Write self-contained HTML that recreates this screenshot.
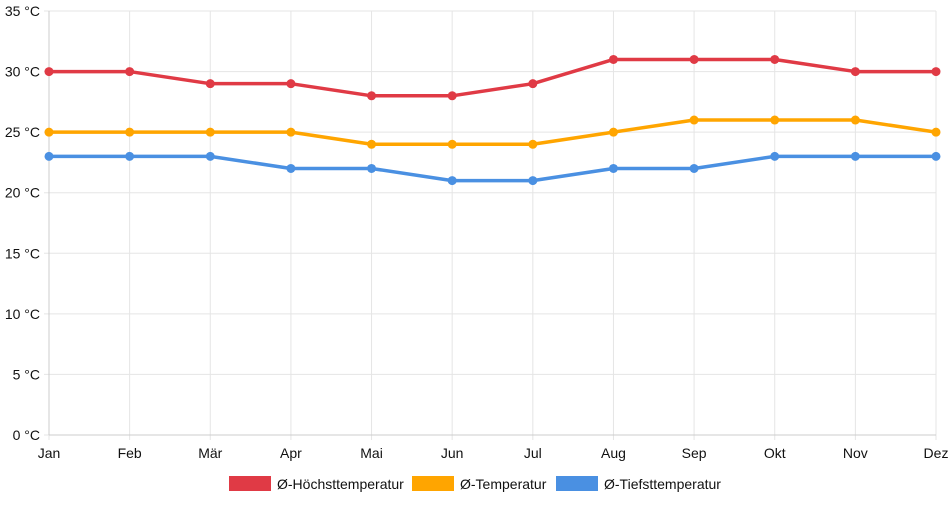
<!DOCTYPE html>
<html><head><meta charset="utf-8"><style>
body{margin:0;background:#fff;font-family:"Liberation Sans",sans-serif;}
svg text{font-family:"Liberation Sans",sans-serif;font-size:14px;fill:#111;}
</style></head><body>
<svg id="chart" width="952" height="500" xmlns="http://www.w3.org/2000/svg"></svg>
<script>
const months=["Jan","Feb","Mär","Apr","Mai","Jun","Jul","Aug","Sep","Okt","Nov","Dez"];
const highTemps=[30,30,29,29,28,28,29,31,31,31,30,30];
const avgTemps=[25,25,25,25,24,24,24,25,26,26,26,25];
const lowTemps=[23,23,23,22,22,21,21,22,22,23,23,23];
const yTicks=[0,5,10,15,20,25,30,35];
const seriesNames=["Ø-Höchsttemperatur","Ø-Temperatur","Ø-Tiefsttemperatur"];
const svg=document.getElementById('chart');
const NS="http://www.w3.org/2000/svg";
const x0=49,x1=936,yTop=11,yBot=435,yMax=35;
const xs=i=>x0+i*(x1-x0)/(months.length-1);
const ys=v=>yBot-v/yMax*(yBot-yTop);
function mk(t,a,p){const e=document.createElementNS(NS,t);for(const k in a)e.setAttribute(k,a[k]);(p||svg).appendChild(e);return e;}
yTicks.forEach(v=>{
  const l=mk('line',{x1:x0-5,x2:x1,y1:ys(v),y2:ys(v),stroke:'#e5e5e5','stroke-width':1});
  
  
  const t=mk('text',{x:x0-9,y:ys(v)+5,'text-anchor':'end'});t.textContent=v+' °C';
  
  
});
months.forEach((m,i)=>{
  const l=mk('line',{x1:xs(i),x2:xs(i),y1:yTop,y2:yBot+5,stroke:'#e5e5e5','stroke-width':1});
  
  
  const t=mk('text',{x:xs(i),y:458,'text-anchor':'middle'});t.textContent=m;
  
  
});
mk('line',{x1:x0,x2:x0,y1:yTop,y2:yBot,stroke:'#ccc'});
mk('line',{x1:x0,x2:x1,y1:yBot,y2:yBot,stroke:'#ccc'});
const series=[[highTemps,'#e03a45','high'],[avgTemps,'#ffa500','avg'],[lowTemps,'#4a90e2','low']];
series.forEach(([d,c,n])=>{
  const p=mk('polyline',{points:d.map((v,i)=>xs(i)+','+ys(v)).join(' '),fill:'none',stroke:c,'stroke-width':3.5,'stroke-linejoin':'round'});
  
  
  d.forEach((v,i)=>{
    const ci=mk('circle',{cx:xs(i),cy:ys(v),r:4.5,fill:c});
    
    
  });
});
const legX=[229,412,556];
series.forEach(([d,c,n],k)=>{
  const g=mk('g',{});
  
  
  mk('rect',{x:legX[k],y:476,width:42,height:15,fill:c},g);
  const t=mk('text',{x:legX[k]+48,y:489},g);t.textContent=seriesNames[k];
});
</script>
</body></html>
